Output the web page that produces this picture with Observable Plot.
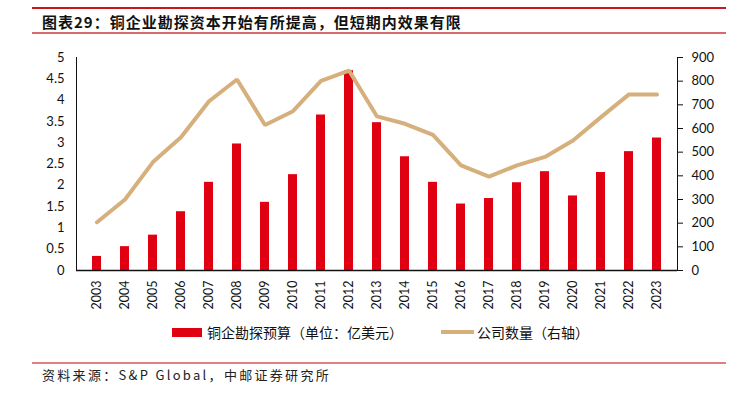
<!DOCTYPE html>
<html><head><meta charset="utf-8">
<script src="https://cdn.jsdelivr.net/npm/d3@7"></script>
<script src="https://cdn.jsdelivr.net/npm/@observablehq/plot@0.6"></script>
<style>
body{margin:0;background:#fff;}
#wrap{position:relative;width:742px;height:396px;overflow:hidden;font-family:"Noto Sans CJK SC",sans-serif;}
.abs{position:absolute;}
#chart{position:absolute;left:0;top:40px;}
</style></head><body>
<div id="wrap">
  <div class="abs" style="left:32px;top:7px;width:694px;height:2px;background:#C8161D"></div>
  <div class="abs" id="title" style="left:42px;top:11px;font-size:15px;font-weight:bold;color:#111;line-height:22px;letter-spacing:1px;"></div>
  <div class="abs" style="left:32px;top:32px;width:694px;height:1.5px;background:#D9696B"></div>
  <div id="chart"></div>
  <div class="abs" style="left:172px;top:328px;width:30px;height:9px;background:#E00012"></div>
  <div class="abs" id="leg1" style="left:207px;top:321px;font-size:14px;line-height:22px;color:#111;"></div>
  <div class="abs" style="left:441px;top:330px;width:33px;height:4px;background:#D6B07C"></div>
  <div class="abs" id="leg2" style="left:477px;top:321px;font-size:14px;line-height:22px;color:#111;"></div>
  <div class="abs" style="left:32px;top:362px;width:694px;height:1.5px;background:#E28080"></div>
  <div class="abs" id="source" style="left:42px;top:366px;font-size:13px;line-height:18px;color:#222;letter-spacing:2.3px;"></div>
</div>
<script>
const titleText = "图表29：铜企业勘探资本开始有所提高，但短期内效果有限";
const legendBar = "铜企勘探预算（单位：亿美元）";
const legendLine = "公司数量（右轴）";
const sourceText = "资料来源：S&P Global，中邮证券研究所";
const years = ["2003","2004","2005","2006","2007","2008","2009","2010","2011","2012","2013","2014","2015","2016","2017","2018","2019","2020","2021","2022","2023"];
const budget = [0.33,0.56,0.83,1.38,2.07,2.97,1.60,2.25,3.65,4.69,3.47,2.67,2.07,1.56,1.69,2.06,2.32,1.75,2.30,2.79,3.11];
const companies = [204,300,458,563,715,807,615,673,801,845,651,620,573,444,397,444,480,549,648,744,744];
const leftTicks = [0,0.5,1,1.5,2,2.5,3,3.5,4,4.5,5];
const rightTicks = [0,100,200,300,400,500,600,700,800,900];

document.getElementById("title").textContent = titleText;
document.getElementById("leg1").textContent = legendBar;
document.getElementById("leg2").textContent = legendLine;
document.getElementById("source").textContent = sourceText;

const ratio = 900 / 5;
const data = years.map((y, i) => ({year: y, budget: budget[i], count: companies[i]}));

const chart = Plot.plot({
  width: 742,
  height: 280,
  marginTop: 17,
  marginBottom: 50,
  marginLeft: 76,
  marginRight: 65,
  style: {fontFamily: "Lato, sans-serif", fontSize: "13px", color: "#111", background: "transparent"},
  x: {type: "band", domain: years, paddingInner: 0.68, paddingOuter: 0.34, label: null},
  y: {domain: [0, 5], label: null},
  marks: [
    Plot.barY(data, {x: "year", y: "budget", fill: "#E00012"}),
    Plot.line(data, {x: "year", y: d => d.count / ratio, stroke: "#D6B07C", strokeWidth: 4, strokeLinejoin: "miter"}),
    Plot.axisY(leftTicks, {anchor: "left", tickSize: 0, tickPadding: 12, tickFormat: d => String(d), fontSize: 13}),
    Plot.axisY(rightTicks.map(v => v / ratio), {anchor: "right", tickSize: 5, tickPadding: 9, tickFormat: d => String(Math.round(d * ratio)), fontSize: 13, stroke: "#111"}),
    Plot.axisX({tickRotate: -90, tickSize: 0, tickPadding: 10, fontSize: 12.5}),
    Plot.frame({anchor: "left", stroke: "#111"}),
    Plot.frame({anchor: "right", stroke: "#111"}),
    Plot.ruleY([0], {stroke: "#111", strokeWidth: 1.5})
  ]
});
document.getElementById("chart").appendChild(chart);
</script>
</body></html>
